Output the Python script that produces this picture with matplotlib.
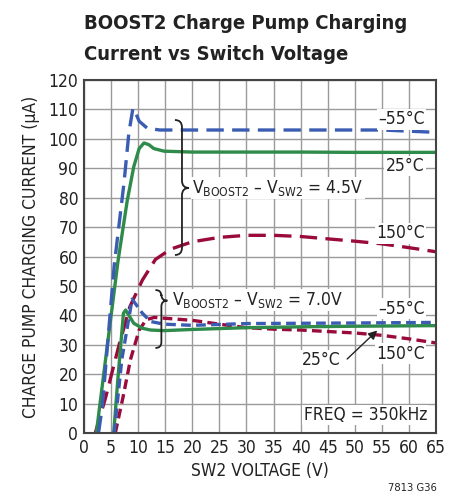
import numpy as np
import matplotlib
matplotlib.use('Agg')
from matplotlib import pyplot as plt
from matplotlib import font_manager
from matplotlib.path import Path
from matplotlib.patches import PathPatch

# VBOOST2 - VSW2 = 4.5V
x_m55_45 = [2.7, 3.4, 5.6, 7.4, 8.3, 9.05, 9.5, 10.2, 11.7, 14, 20, 30, 40, 50, 55, 60, 65]
y_m55_45 = [0, 9, 57, 85, 102, 110.4, 109, 106, 103.6, 103, 103, 103, 103, 103, 103, 102.6, 102.2]
x_25_45 = [2.3, 4, 6.3, 8, 9.2, 10.2, 11.1, 12, 12.9, 14.8, 20, 30, 40, 50, 65]
y_25_45 = [0, 25, 58.5, 79, 90.5, 96.7, 98.6, 98, 96.7, 95.8, 95.5, 95.5, 95.5, 95.4, 95.4]
x_150_45 = [2.1, 4, 6.5, 8.5, 10.8, 13.2, 16, 20, 25, 30, 35, 40, 45, 50, 55, 60, 65]
y_150_45 = [0, 12, 30, 43, 52, 59, 62.5, 65, 66.5, 67.2, 67.2, 66.8, 66, 65.2, 64.3, 63, 61.6]

# VBOOST2 - VSW2 = 7.0V
x_m55_70 = [5.6, 7, 8.9, 10.8, 12.3, 14.8, 20, 30, 40, 50, 65]
y_m55_70 = [0, 25, 45.5, 40.7, 37.9, 37, 36.6, 37.2, 37.3, 37.4, 37.6]
x_25_70 = [5.5, 6.3, 7.3, 7.7, 9.2, 10.8, 12.3, 14.8, 20, 30, 40, 50, 65]
y_25_70 = [0, 19, 40.7, 41.8, 37.3, 35.6, 35.0, 34.8, 35.2, 35.8, 36.1, 36.3, 36.5]
x_150_70 = [5.8, 7.2, 8.6, 10.2, 11.5, 13, 15, 20, 25, 30, 35, 40, 45, 50, 55, 60, 65]
y_150_70 = [0, 12, 25, 35, 38.5, 39.3, 39, 38.3, 37, 35.8, 35.3, 35, 34.5, 34, 33.2, 32, 30.6]

x_ticks = np.arange(0, 66, 5)
y_ticks = np.arange(0, 121, 10)

blue = '#3b5cb3'
green = '#2e8b4a'
red = '#9a0b3c'

# pick a condensed sans if one is installed, otherwise an Arial-like one
fonts = font_manager.fontManager.ttflist
names = {f.name for f in fonts}
stretch = 'normal'
if 'Liberation Sans Narrow' in names:
    fam = 'Liberation Sans Narrow'
elif any(f.name == 'DejaVu Sans' and f.stretch == 'condensed' for f in fonts):
    fam, stretch = 'DejaVu Sans', 'condensed'
elif 'Roboto Condensed' in names:
    fam = 'Roboto Condensed'
elif 'Liberation Sans' in names:
    fam = 'Liberation Sans'
else:
    fam = 'DejaVu Sans'
narrow = fam != 'Liberation Sans' and fam != 'DejaVu Sans' or stretch == 'condensed'

plt.rcParams['font.family'] = [fam, 'DejaVu Sans']
plt.rcParams['font.stretch'] = stretch
plt.rcParams['mathtext.fontset'] = 'custom'
plt.rcParams['mathtext.rm'] = fam + (':stretch=condensed' if stretch == 'condensed' else '')
plt.rcParams['lines.scale_dashes'] = False

fs = 12.5 if narrow else 11.5


def brace(ax, x0, top, tip, bottom, w=1.3, h=2.5):
    verts = [(x0 - w, top), (x0, top), (x0, top - h),
             (x0, tip + h), (x0, tip), (x0 + w, tip),
             (x0, tip), (x0, tip - h),
             (x0, bottom + h), (x0, bottom), (x0 - w, bottom)]
    codes = [Path.MOVETO, Path.CURVE3, Path.CURVE3,
             Path.LINETO, Path.CURVE3, Path.CURVE3,
             Path.CURVE3, Path.CURVE3,
             Path.LINETO, Path.CURVE3, Path.CURVE3]
    ax.add_patch(PathPatch(Path(verts, codes), fill=False, lw=1.3, color='#222222', zorder=5))


def main():
    fig = plt.figure(figsize=(4.66, 5.0), dpi=100)
    ax = fig.add_axes([0.180, 0.134, 0.756, 0.706])

    lw = 2.4
    ax.plot(x_150_45, y_150_45, color=red, lw=lw, dashes=(12.5, 6))
    ax.plot(x_25_45, y_25_45, color=green, lw=lw)
    ax.plot(x_m55_45, y_m55_45, color=blue, lw=lw, dashes=(12.5, 6))
    ax.plot(x_150_70, y_150_70, color=red, lw=lw, dashes=(7, 3.8))
    ax.plot(x_25_70, y_25_70, color=green, lw=lw)
    ax.plot(x_m55_70, y_m55_70, color=blue, lw=lw, dashes=(7, 3.8))

    ax.set_xlim(0, 65)
    ax.set_ylim(0, 120)
    ax.set_xticks(x_ticks)
    ax.set_yticks(y_ticks)
    ax.grid(True, color='#9a9a9a', lw=1)
    ax.tick_params(length=0, labelsize=fs, pad=4, colors='#222222')
    for s in ax.spines.values():
        s.set_color('#444444')
        s.set_linewidth(1.5)

    ax.set_xlabel('SW2 VOLTAGE (V)', fontsize=fs, color='#222222')
    ax.set_ylabel('CHARGE PUMP CHARGING CURRENT (µA)', fontsize=fs, color='#222222', labelpad=6)

    box = dict(facecolor='white', edgecolor='none', pad=1.0)
    lab = dict(fontsize=fs, color='#222222', bbox=box, zorder=6)
    ax.text(62.9, 106.6, '–55°C', ha='right', va='center', **lab)
    ax.text(62.8, 90.8, '25°C', ha='right', va='center', **lab)
    ax.text(62.9, 67.9, '150°C', ha='right', va='center', **lab)
    ax.text(62.9, 42.2, '–55°C', ha='right', va='center', **lab)
    ax.text(62.9, 26.9, '150°C', ha='right', va='center', **lab)
    ax.text(47.3, 24.8, '25°C', ha='right', va='center', **lab)
    ax.annotate('', xy=(54.5, 35.5), xytext=(48.2, 24.5),
                arrowprops=dict(arrowstyle='-|>', color='#222222', lw=1, mutation_scale=13), zorder=7)
    ax.text(63.3, 6.1, 'FREQ = 350kHz', ha='right', va='center', **lab)

    ax.text(20.0, 83.3, r'V$_{\mathrm{BOOST2}}$ – V$_{\mathrm{SW2}}$ = 4.5V', ha='left', va='center', **lab)
    ax.text(16.3, 45.2, r'V$_{\mathrm{BOOST2}}$ – V$_{\mathrm{SW2}}$ = 7.0V', ha='left', va='center', **lab)
    brace(ax, 18.1, 106.4, 83.3, 60.5)
    brace(ax, 14.3, 48.6, 45.0, 28.9, w=1.1, h=2.0)

    tfs = 14.5 if narrow else 13
    fig.text(0.18, 0.953, 'BOOST2 Charge Pump Charging', ha='left', va='center',
             fontsize=tfs, fontweight='bold', color='#222222')
    fig.text(0.18, 0.890, 'Current vs Switch Voltage', ha='left', va='center',
             fontsize=tfs, fontweight='bold', color='#222222')
    fig.text(0.938, 0.014, '7813 G36', ha='right', va='bottom', fontsize=8, color='#222222')

    fig.savefig('out.png', dpi=100)


main()
